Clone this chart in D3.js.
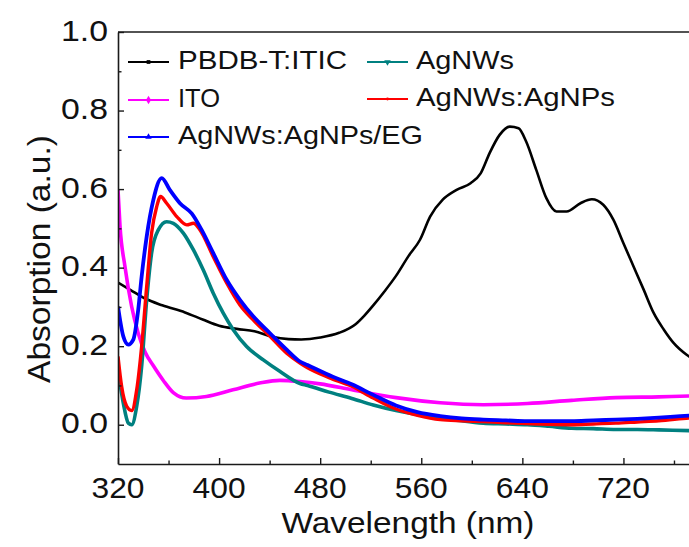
<!DOCTYPE html>
<html>
<head>
<meta charset="utf-8">
<script src="https://cdn.jsdelivr.net/npm/d3@7"></script>
<style>
  html, body { margin: 0; padding: 0; background: #fff; }
  svg { display: block; font-family: "Liberation Sans", Arial, sans-serif; }
</style>
</head>
<body>
<svg id="chart" width="689" height="547"></svg>
<script>
// ---------- data ----------
const xTicks = [320, 400, 480, 560, 640, 720];
const yTicks = [0.0, 0.2, 0.4, 0.6, 0.8, 1.0];
const seriesNames = ["PBDB-T:ITIC", "ITO", "AgNWs:AgNPs/EG", "AgNWs", "AgNWs:AgNPs"];

const pbdbWl  = [320,330,341,355,373,387,400,414,428,442,455,465,480,495,508,515,522,531,540,550,559,567,577,588,599,607,614,622,630,637,643,651,659,667,675,686,695,704,712,720,728,736,744,752,760,770,780,790,800];
const pbdbAbs = [0.362,0.343,0.322,0.304,0.286,0.268,0.252,0.244,0.238,0.224,0.218,0.217,0.222,0.234,0.256,0.278,0.304,0.340,0.379,0.430,0.471,0.530,0.573,0.598,0.615,0.640,0.691,0.738,0.759,0.755,0.721,0.649,0.577,0.543,0.543,0.564,0.574,0.560,0.522,0.462,0.403,0.344,0.284,0.242,0.207,0.178,0.158,0.143,0.132];

const itoWl  = [320,321.6,325.5,330.8,336,341.4,348,356,364,374,390,411,432,448,464,480,505,540,575,609,644,679,714,748,772,800];
const itoAbs = [0.598,0.505,0.403,0.301,0.233,0.185,0.150,0.112,0.081,0.068,0.072,0.089,0.106,0.113,0.110,0.104,0.089,0.069,0.056,0.051,0.054,0.062,0.069,0.071,0.073,0.074];

const egWl  = [320,324.2,328.2,332,336,338.7,342.7,348,354.6,361,369,378.3,386.2,395.4,406,416.5,427,440.3,453.5,464,470,490,505,522,540,557,575,592,609,627,644,661,679,696,714,731,748,765,780,800];
const egAbs = [0.301,0.225,0.204,0.216,0.293,0.377,0.479,0.573,0.628,0.598,0.564,0.538,0.496,0.437,0.369,0.318,0.276,0.233,0.191,0.161,0.152,0.122,0.103,0.076,0.049,0.032,0.022,0.016,0.013,0.011,0.009,0.009,0.009,0.011,0.013,0.015,0.018,0.022,0.025,0.028];

const nwWl  = [320,324.2,328.2,330.8,334.8,338.7,342.7,346.6,351.9,358.5,363.8,371.7,379.7,387.5,395.4,403.3,411.2,421.8,435,448,464,470,487,505,522,540,557,575,592,609,627,644,661,679,696,714,731,748,772,800];
const nwAbs = [0.140,0.055,0.004,0.000,0.047,0.148,0.318,0.437,0.496,0.517,0.513,0.488,0.445,0.394,0.335,0.284,0.242,0.199,0.165,0.136,0.105,0.100,0.083,0.067,0.050,0.036,0.026,0.018,0.010,0.004,0.002,0.000,-0.004,-0.009,-0.010,-0.012,-0.012,-0.013,-0.015,-0.016];

const npWl  = [320,322.9,326.9,330.8,334.8,338.7,342.7,346.6,350.6,353.7,358.5,366.5,374.4,379.7,384.9,395.4,406,416.5,427,440.3,453.5,464,470,487,505,522,540,557,575,592,609,627,644,661,679,696,714,731,748,772,800];
const npAbs = [0.174,0.097,0.047,0.036,0.089,0.199,0.352,0.488,0.555,0.581,0.564,0.530,0.509,0.513,0.496,0.428,0.361,0.305,0.267,0.225,0.182,0.157,0.145,0.120,0.098,0.068,0.040,0.024,0.013,0.010,0.008,0.005,0.003,0.001,0.000,0.002,0.004,0.007,0.010,0.017,0.022];

// ---------- layout ----------
const svg = d3.select("#chart");
const plotLeft = 118, plotTop = 32, plotBottom = 464;
const x = d3.scaleLinear().domain([320, 800]).range([plotLeft, plotLeft + 480 * 1.2636]);
const y = d3.scaleLinear().domain([-0.1, 1.0]).range([plotBottom, plotTop]);
const axisColor = "#1a1a1a";

svg.append("defs").append("clipPath").attr("id", "plotclip")
  .append("rect").attr("x", plotLeft).attr("y", plotTop)
  .attr("width", x(800) - plotLeft).attr("height", plotBottom - plotTop);

// ---------- series ----------
const series = [
  { name: seriesNames[0], wl: pbdbWl, v: pbdbAbs, color: "#000000", w: 2.6, marker: "square" },
  { name: seriesNames[1], wl: itoWl,  v: itoAbs,  color: "#ff00ff", w: 3.6, marker: "diamond" },
  { name: seriesNames[3], wl: nwWl,   v: nwAbs,   color: "#008080", w: 3.6, marker: "tridown" },
  { name: seriesNames[4], wl: npWl,   v: npAbs,   color: "#ff0000", w: 3.4, marker: "dot" },
  { name: seriesNames[2], wl: egWl,   v: egAbs,   color: "#0000ff", w: 3.8, marker: "triup" }
];

const line = d3.line()
  .x(d => x(d[0])).y(d => y(d[1]))
  .curve(d3.curveMonotoneX);

const plot = svg.append("g").attr("clip-path", "url(#plotclip)");
series.forEach(s => {
  plot.append("path")
    .datum(d3.zip(s.wl, s.v))
    .attr("fill", "none")
    .attr("stroke", s.color)
    .attr("stroke-width", s.w)
    .attr("stroke-linejoin", "round")
    .attr("d", line);
});

// ---------- axes (inward ticks) ----------
const xAxis = d3.axisBottom(x).tickValues(d3.range(320, 801, 40))
  .tickSize(0).tickFormat("");
const gx = svg.append("g").attr("transform", `translate(0,${plotBottom})`).call(xAxis);
gx.select(".domain").attr("stroke", axisColor).attr("stroke-width", 1.6);
gx.selectAll(".tick").append("line")
  .attr("y1", 0).attr("y2", d => (d % 80 === 0 ? -6 : -3.5))
  .attr("stroke", axisColor).attr("stroke-width", 1.4);

const yAxis = d3.axisLeft(y).tickValues(d3.range(0, 11).map(i => +(i * 0.1).toFixed(1)))
  .tickSize(0).tickFormat("");
const gy = svg.append("g").attr("transform", `translate(${plotLeft},0)`).call(yAxis);
gy.select(".domain").attr("stroke", axisColor).attr("stroke-width", 1.6);
gy.selectAll(".tick").append("line")
  .attr("x1", 0).attr("x2", (d, i) => (i % 2 === 0 ? 6 : 3.5))
  .attr("stroke", axisColor).attr("stroke-width", 1.4);

// top frame
svg.append("line").attr("x1", plotLeft).attr("x2", x(800)).attr("y1", plotTop).attr("y2", plotTop)
  .attr("stroke", axisColor).attr("stroke-width", 1.6);

// tick labels
svg.append("g").selectAll("text").data(xTicks).join("text")
  .attr("x", d => x(d)).attr("y", 498)
  .attr("text-anchor", "middle")
  .attr("font-size", 30).attr("fill", "#111")
  .attr("textLength", 53).attr("lengthAdjust", "spacingAndGlyphs")
  .text(d => d);

svg.append("g").selectAll("text").data(yTicks).join("text")
  .attr("x", 108).attr("y", d => y(d) + 8.5)
  .attr("text-anchor", "end")
  .attr("font-size", 30).attr("fill", "#111")
  .attr("textLength", 47).attr("lengthAdjust", "spacingAndGlyphs")
  .text(d => d.toFixed(1));

// axis titles
svg.append("text").attr("x", 408).attr("y", 533)
  .attr("text-anchor", "middle").attr("font-size", 29).attr("fill", "#111")
  .attr("textLength", 253).attr("lengthAdjust", "spacingAndGlyphs")
  .text("Wavelength (nm)");

svg.append("text").attr("transform", "translate(50,259) rotate(-90)")
  .attr("text-anchor", "middle").attr("font-size", 31).attr("fill", "#111")
  .attr("textLength", 248).attr("lengthAdjust", "spacingAndGlyphs")
  .text("Absorption (a.u.)");

// ---------- legend ----------
const legendItems = [
  { s: series[0], lx: 128, tx: 178, cy: 62,  tw: 169 },
  { s: series[1], lx: 128, tx: 178, cy: 100, tw: 42 },
  { s: series[4], lx: 128, tx: 178, cy: 137, tw: 245 },
  { s: series[2], lx: 367, tx: 416, cy: 62,  tw: 98 },
  { s: series[3], lx: 367, tx: 416, cy: 99,  tw: 199 }
];
const lg = svg.append("g");
legendItems.forEach(it => {
  const g = lg.append("g");
  g.append("line").attr("x1", it.lx).attr("x2", it.lx + 41)
    .attr("y1", it.cy).attr("y2", it.cy)
    .attr("stroke", it.s.color).attr("stroke-width", 2);
  const mx = it.lx + 20.5, my = it.cy;
  const m = it.s.marker;
  let sym;
  if (m === "square") sym = d3.symbol(d3.symbolSquare, 14);
  else if (m === "diamond") sym = d3.symbol(d3.symbolDiamond, 22);
  else if (m === "triup") sym = d3.symbol(d3.symbolTriangle, 18);
  else if (m === "tridown") sym = d3.symbol(d3.symbolTriangle, 18);
  else sym = d3.symbol(d3.symbolCircle, 6);
  g.append("path").attr("d", sym())
    .attr("transform", `translate(${mx},${my})` + (m === "tridown" ? " rotate(180)" : ""))
    .attr("fill", it.s.color);
  g.append("text").attr("x", it.tx).attr("y", it.cy + 7)
    .attr("font-size", 26).attr("fill", "#111")
    .attr("textLength", it.tw).attr("lengthAdjust", "spacingAndGlyphs")
    .text(it.s.name);
});
</script>
</body>
</html>
